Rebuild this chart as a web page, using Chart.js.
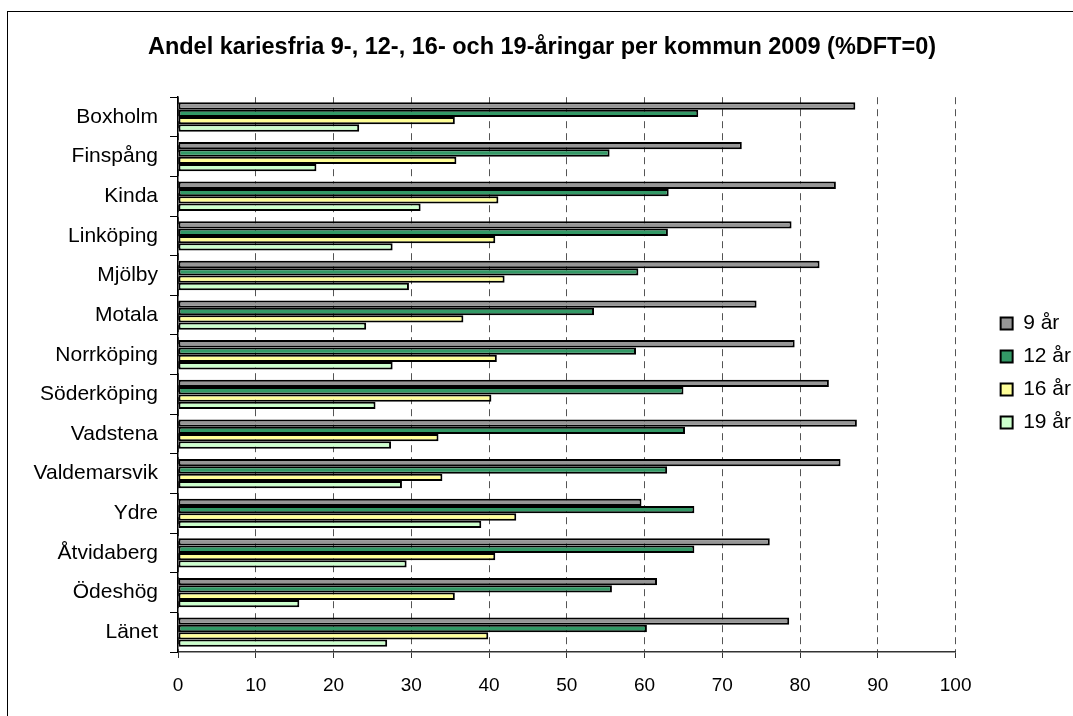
<!DOCTYPE html>
<html>
<head>
<meta charset="utf-8">
<script src="https://cdn.jsdelivr.net/npm/chart.js@4.4.1/dist/chart.umd.min.js"></script>
<style>
    html, body { margin: 0; padding: 0; background: #fff; overflow: hidden; }
    #wrap { position: relative; width: 1073px; height: 716px; overflow: hidden; }
    #chart { position: absolute; left: 0; top: 0; }
    #frame {
        position: absolute; left: 7px; top: 11px; width: 2000px; height: 2000px;
        border-left: 1.5px solid #000; border-top: 1.5px solid #000; pointer-events: none;
    }
</style>
</head>
<body>
<div id="wrap">
    <canvas id="chart" width="1082" height="716" style="width:1082px;height:716px"></canvas>
    <div id="frame"></div>
</div>
<script>
const kommuner = ['Boxholm', 'Finspång', 'Kinda', 'Linköping', 'Mjölby', 'Motala', 'Norrköping',
    'Söderköping', 'Vadstena', 'Valdemarsvik', 'Ydre', 'Åtvidaberg', 'Ödeshög', 'Länet'];

const ar9 = [87.1, 72.5, 84.6, 78.9, 82.5, 74.4, 79.3, 83.7, 87.3, 85.2, 59.6, 76.1, 61.6, 78.6];
const ar12 = [66.9, 55.5, 63.1, 63.0, 59.2, 53.5, 58.9, 65.0, 65.2, 62.9, 66.4, 66.4, 55.8, 60.3];
const ar16 = [35.6, 35.8, 41.2, 40.8, 42.0, 36.7, 41.0, 40.3, 33.5, 34.0, 43.5, 40.8, 35.6, 39.9];
const ar19 = [23.3, 17.8, 31.2, 27.6, 29.7, 24.2, 27.6, 25.4, 27.4, 28.8, 39.0, 29.4, 15.6, 26.9];

const seriesNames = ['9 år', '12 år', '16 år', '19 år'];
const seriesColors = ['#969696', '#339966', '#FFFF99', '#CCFFCC'];

const FONT = 'Arial, "Liberation Sans", sans-serif';

// nudge legend and title to where the original has them
const nudge = {
    id: 'nudge',
    afterLayout(chart) {
        const lg = chart.legend;
        lg.left += 33; lg.right += 33;
        lg.top += 15; lg.bottom += 15;
        const t = chart.titleBlock;
        t.left += 18; t.right += 18;
    }
};

function makeDataset(i, values) {
    return {
        label: seriesNames[i],
        data: values,
        backgroundColor: seriesColors[i],
        borderColor: '#000',
        borderWidth: 2,
        borderSkipped: false,
        categoryPercentage: 0.74,
        barPercentage: 1.0
    };
}

new Chart(document.getElementById('chart'), {
    type: 'bar',
    data: {
        labels: kommuner,
        datasets: [
            makeDataset(0, ar9),
            makeDataset(1, ar12),
            makeDataset(2, ar16),
            makeDataset(3, ar19)
        ]
    },
    options: {
        indexAxis: 'y',
        responsive: false,
        animation: false,
        layout: { padding: { left: 0, right: 34, top: 0, bottom: 0 } },
        plugins: {
            title: {
                display: true,
                text: 'Andel kariesfria 9-, 12-, 16- och 19-åringar per kommun 2009 (%DFT=0)',
                color: '#000',
                font: { family: FONT, size: 23.5, weight: 'bold' },
                padding: { top: 33, bottom: 36 }
            },
            legend: {
                position: 'right',
                labels: {
                    color: '#000',
                    font: { family: FONT, size: 21 },
                    boxWidth: 12,
                    boxHeight: 12,
                    padding: 12
                }
            },
            tooltip: { enabled: false }
        },
        scales: {
            x: {
                min: 0,
                max: 100,
                ticks: {
                    stepSize: 10,
                    color: '#000',
                    font: { family: FONT, size: 19 },
                    padding: 16
                },
                grid: {
                    color: '#555',
                    lineWidth: 1,
                    tickLength: 6,
                    tickColor: '#333',
                    tickBorderDash: []
                },
                border: { color: '#333', width: 1.5, dash: [7, 5] },
                afterFit(scale) { scale.height = 64; }
            },
            y: {
                ticks: {
                    color: '#000',
                    font: { family: FONT, size: 21 },
                    padding: 12
                },
                grid: {
                    drawOnChartArea: false,
                    tickLength: 8,
                    tickColor: '#000',
                    offset: true
                },
                border: { color: '#000', width: 1.5 },
                afterFit(scale) { scale.width = 178; }
            }
        }
    },
    plugins: [nudge]
});
</script>
</body>
</html>
